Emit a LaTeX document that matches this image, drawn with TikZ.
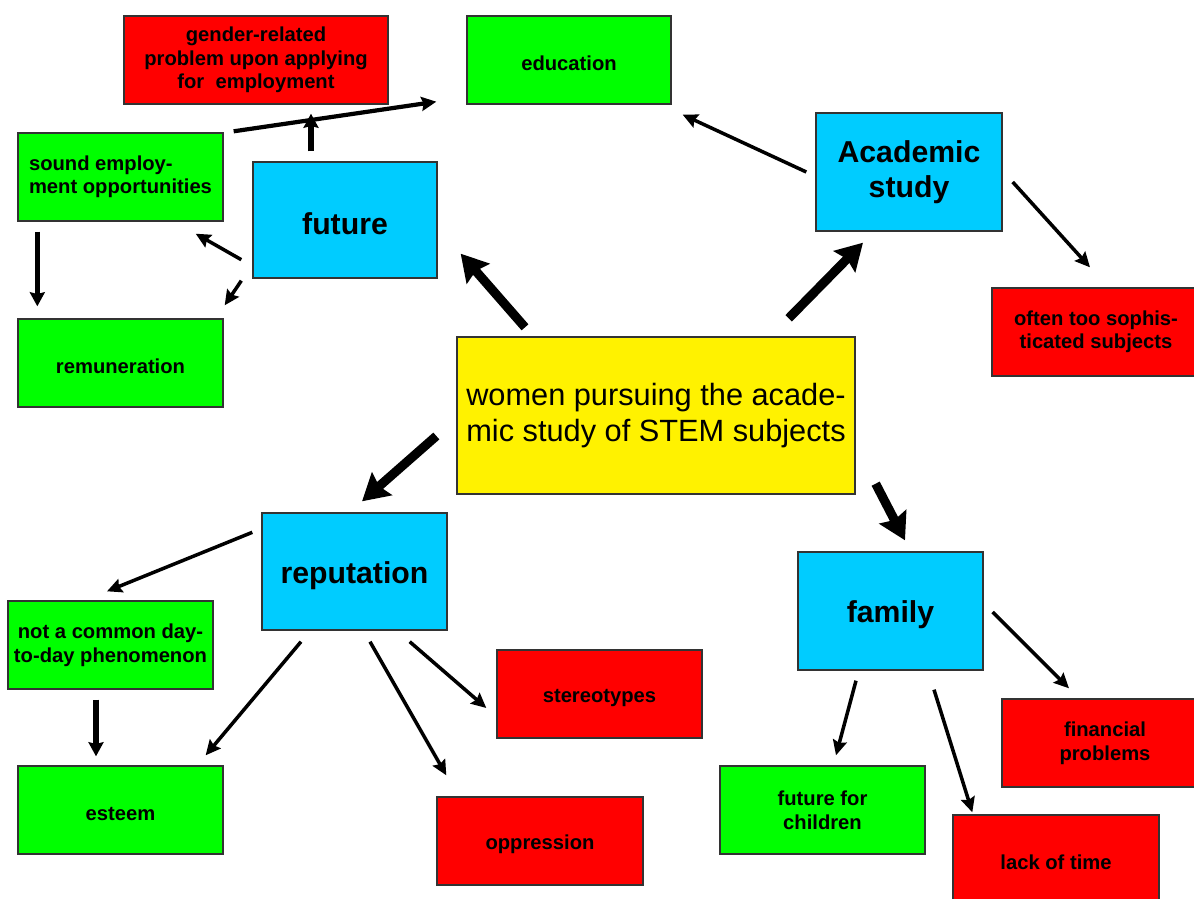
\documentclass[tikz,border=0pt]{standalone}
\usepackage{fontspec}
\setmainfont{Liberation Sans}
\usetikzlibrary{arrows.meta}
\definecolor{topicblue}{RGB}{0,204,255}

\begin{document}
\begin{tikzpicture}[x=0.02cm, y=-0.02cm,
    smallbox/.style={rectangle, draw=black!80, line width=0.8pt, inner sep=2pt, align=center,
      minimum width=4.1cm, minimum height=1.76cm, font=\fontsize{11.5}{13.4}\selectfont\bfseries,
      execute at begin node={\rule{0pt}{1em}}},
    topicbox/.style={rectangle, draw=black!80, line width=0.8pt, fill=topicblue, align=center,
      minimum width=3.7cm, minimum height=2.34cm, font=\fontsize{17.2}{19.9}\selectfont\bfseries,
      execute at begin node={\rule{0pt}{1em}}},
    mainbox/.style={rectangle, draw=black!80, line width=0.8pt, fill=yellow, align=center,
      minimum width=7.96cm, minimum height=3.14cm, font=\fontsize{17.5}{20.5}\selectfont,
      execute at begin node={\rule{0pt}{1em}}},
    bigarrow/.style={-{Stealth[length=15pt,width=17pt,inset=2pt]}, line width=5.2pt},
    midarrow/.style={-{Stealth[length=8pt,width=8.5pt,inset=1pt]}, line width=3.2pt},
    thinarrow/.style={-{Stealth[length=8.5pt,width=8pt,inset=1.2pt]}, line width=2pt},]
    \useasboundingbox (0,0) rectangle (1194,899);
    \clip (0,0) rectangle (1194,899);
    %Nodes
    \node[smallbox, fill=red, minimum width=5.28cm] (gender) at (256,60) {gender-related\\problem upon applying\\for~ employment};
    \node[smallbox, fill=green, minimum width=4.08cm] (education) at (569,60) {education};
    \node[smallbox, fill=green, align=left] (sound) at (120.5,177) {sound employ-\\ment opportunities};
    \node[topicbox, minimum width=3.68cm, minimum height=2.32cm] (future) at (345,220) {future};
    \node[smallbox, fill=green] (remun) at (120.5,363) {remuneration};
    \node[topicbox, minimum width=3.72cm, minimum height=2.36cm] (academic) at (909,172) {Academic\\study};
    \node[smallbox, fill=red, minimum width=4.16cm] (sophis) at (1096,332) {often too sophis-\\ticated subjects};
    \node[mainbox] (women) at (656,415.5) {women pursuing the acade-\\mic study of STEM subjects};
    \node[topicbox] (reputation) at (354.5,571.5) {reputation};
    \node[smallbox, fill=green] (notcommon) at (110.5,645) {not a common day-\\to-day phenomenon};
    \node[smallbox, fill=green] (esteem) at (120.5,810) {esteem};
    \node[smallbox, fill=red] (stereo) at (599.5,694) {stereotypes};
    \node[smallbox, fill=red, minimum width=4.12cm] (oppress) at (540,841) {oppression};
    \node[topicbox, minimum height=2.36cm] (family) at (890.5,611) {family};
    \node[smallbox, fill=green] (children) at (822.5,810) {future for\\children};
    \node[smallbox, fill=red, minimum width=4.12cm] (lacktime) at (1056,859) {lack of time};
    \node[smallbox, fill=red, minimum width=4.12cm] (financial) at (1105,743) {financial\\problems};

    %Lines
    \draw[bigarrow] ([shift={(-131,-9)}]women.north) -- ([shift={(23,-25)}]future.south east);
    \draw[bigarrow] ([shift={(-67,-18)}]women.north east) -- ([shift={(-46,11)}]academic.south);
    \draw[bigarrow] ([shift={(-20,20.5)}]women.west) -- ([shift={(7.5,-11)}]reputation.north);
    \draw[bigarrow] ([shift={(20,-11)}]women.south east) -- ([shift={(14.5,-11)}]family.north);

    \draw[thinarrow, line width=2.4pt] ([shift={(10,-1)}]sound.north east) -- ([shift={(-30,-3)}]education.south west);
    \draw[midarrow] ([shift={(-34,-10)}]future.north) -- ([shift={(55,9)}]gender.south);
    \draw[thinarrow] ([shift={(-11,-19)}]future.south west) -- ([shift={(-28,12)}]sound.south east);
    \draw[thinarrow] ([shift={(-11,2)}]future.south west) -- ([shift={(1,-13)}]remun.north east);
    \draw[midarrow] ([shift={(20,10)}]sound.south west) -- ([shift={(20,-12)}]remun.north west);

    \draw[thinarrow] ([shift={(-9,0)}]academic.west) -- ([shift={(11,10)}]education.south east);
    \draw[thinarrow] ([shift={(10,10)}]academic.east) -- ([shift={(-6,-20)}]sophis.north);

    \draw[thinarrow] ([shift={(-9,20)}]reputation.north west) -- ([shift={(-3.5,-9)}]notcommon.north);
    \draw[midarrow] ([shift={(-14.5,10)}]notcommon.south) -- ([shift={(-24.5,-9)}]esteem.north);
    \draw[thinarrow] ([shift={(-53.5,11)}]reputation.south) -- ([shift={(-18,-10)}]esteem.north east);
    \draw[thinarrow] ([shift={(15.5,11)}]reputation.south) -- ([shift={(10,-21)}]oppress.north west);
    \draw[thinarrow] ([shift={(-38,11)}]reputation.south east) -- ([shift={(-10,14)}]stereo.west);

    \draw[thinarrow] ([shift={(-34.5,10)}]family.south) -- ([shift={(13.5,-10)}]children.north);
    \draw[thinarrow] ([shift={(43.5,19)}]family.south) -- ([shift={(20,-2)}]lacktime.north west);
    \draw[thinarrow] ([shift={(9,1)}]family.east) -- ([shift={(-36,-10)}]financial.north);
  \end{tikzpicture}
\end{document}
